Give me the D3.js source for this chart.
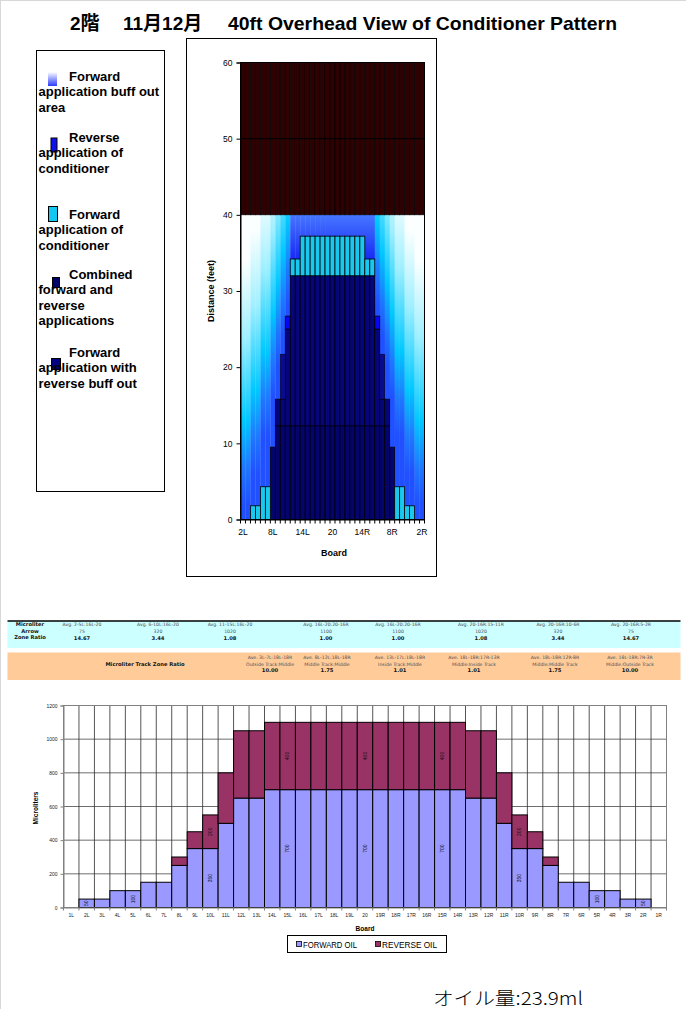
<!DOCTYPE html>
<html><head><meta charset="utf-8">
<script src="https://cdn.jsdelivr.net/npm/d3@7"></script>
<style>body{margin:0;background:#fff}svg{display:block}</style>
</head><body>
<svg id="c" width="686" height="1009"></svg>
<script>
// ---------------- DATA ----------------
const titleParts = ["2階", "11月12月", "40ft Overhead View of Conditioner Pattern"];

// Overhead view (boards 2L..2R)
const boardsTop = ["2L","3L","4L","5L","6L","7L","8L","9L","10L","11L","12L","13L","14L","15L","16L","17L","18L","19L","20",
  "19R","18R","17R","16R","15R","14R","13R","12R","11R","10R","9R","8R","7R","6R","5R","4R","3R","2R"];
const boardTickLabels = ["2L","8L","14L","20","14R","8R","2R"];
const distanceTicks = [0,10,20,30,40,50,60];
const patternLength = 40;   // ft, oiled area
const laneEnd = 60;         // ft
// combined forward + reverse (0 -> value)
const combinedTop = [0,0,0,0,0,0,9.5,12.3,12.3,12.3,12.3,12.3,12.3,12.3,12.3,12.3,12.3,12.3,12.3,12.3,12.3,12.3,12.3,12.3,12.3,12.3,12.3,12.3,12.3,12.3,9.5,0,0,0,0,0,0];
// forward application with reverse buff out (combinedTop -> value)
const revBuffTop = [0,0,0,0,0,0,0,15.8,15.8,25.0,32,32,32,32,32,32,32,32,32,32,32,32,32,32,32,32,32,25.0,15.8,15.8,0,0,0,0,0,0,0];
// upper navy step (board 10L / 10R)
const stepLow  = [null,null,null,null,null,null,null,null,15.8,null,null,null,null,null,null,null,null,null,null,null,null,null,null,null,null,null,null,null,15.8,null,null,null,null,null,null,null,null];
const stepHigh = [null,null,null,null,null,null,null,null,21.7,null,null,null,null,null,null,null,null,null,null,null,null,null,null,null,null,null,null,null,21.7,null,null,null,null,null,null,null,null];
// reverse application of conditioner
const revLow  = [null,null,null,null,null,null,null,null,null,25.0,null,null,null,null,null,null,null,null,null,null,null,null,null,null,null,null,null,25.0,null,null,null,null,null,null,null,null,null];
const revHigh = [null,null,null,null,null,null,null,null,null,26.7,null,null,null,null,null,null,null,null,null,null,null,null,null,null,null,null,null,26.7,null,null,null,null,null,null,null,null,null];
// forward application of conditioner
const fwdLow  = [null,null,0,0,0,0,null,null,null,null,32,32,32,32,32,32,32,32,32,32,32,32,32,32,32,32,32,null,null,null,null,0,0,0,0,null,null];
const fwdHigh = [null,null,1.8,1.8,4.3,4.3,null,null,null,null,34.2,34.2,37.2,37.2,37.2,37.2,37.2,37.2,37.2,37.2,37.2,37.2,37.2,37.2,37.2,34.2,34.2,null,null,null,null,4.3,4.3,1.8,1.8,null,null];
// forward buff-out area: shift (ft) of the fade per board (null = fully blue area)
const buffShift = [2,2,6,6,11,11,16,20,24,28,null,null,null,null,null,null,null,null,null,null,null,null,null,null,null,null,null,28,24,20,16,11,11,6,6,2,2];

const legendItems = [
  ["Forward", "application buff out", "area"],
  ["Reverse", "application of", "conditioner"],
  ["Forward", "application of", "conditioner"],
  ["Combined", "forward and", "reverse", "applications"],
  ["Forward", "application with", "reverse buff out"]
];

// Zone tables
const arrowRowLabels = ["Microliter", "Arrow", "Zone Ratio"];
const arrowZones = ["Avg. 2-5L:16L-20","Avg. 6-10L:16L-20","Avg. 11-15L:16L-20","Avg. 16L-20:20-16R","Avg. 16L-20:20-16R","Avg. 20-16R:15-11R","Avg. 20-16R:10-6R","Avg. 20-16R:5-2R"];
const arrowValues = ["75","320","1020","1100","1100","1020","320","75"];
const arrowRatios = ["14.67","3.44","1.08","1.00","1.00","1.08","3.44","14.67"];
const trackLabel = "Microliter Track Zone Ratio";
const trackZones = ["Ave. 3L-7L:18L-18R","Ave. 8L-12L:18L-18R","Ave. 13L-17L:18L-18R","Ave. 18L-18R:17R-13R","Ave. 18L-18R:12R-8R","Ave. 18L-18R:7R-3R"];
const trackNames = ["Outside Track:Middle","Middle Track:Middle","Inside Track:Middle","Middle:Inside Track","Middle:Middle Track","Middle:Outside Track"];
const trackRatios = ["10.00","1.75","1.01","1.01","1.75","10.00"];

// Oil per board
const boardsAll = ["1L","2L","3L","4L","5L","6L","7L","8L","9L","10L","11L","12L","13L","14L","15L","16L","17L","18L","19L","20",
  "19R","18R","17R","16R","15R","14R","13R","12R","11R","10R","9R","8R","7R","6R","5R","4R","3R","2R","1R"];
const forwardOil = [0,50,50,100,100,150,150,250,350,350,500,650,650,700,700,700,700,700,700,700,700,700,700,700,700,700,650,650,500,350,350,250,150,150,100,100,50,50,0];
const reverseOil = [0,0,0,0,0,0,0,50,100,200,300,400,400,400,400,400,400,400,400,400,400,400,400,400,400,400,400,400,300,200,100,50,0,0,0,0,0,0,0];
const microTicks = [0,200,400,600,800,1000,1200];
const forwardLabelBoards = ["2L","5L","10L","15L","20","15R","10R","5R","2R"];
const reverseLabelBoards = ["10L","15L","20","15R","10R"];
const seriesNames = ["FORWARD OIL","REVERSE OIL"];
const oilNote = "オイル量:23.9ml";

// ---------------- DRAW ----------------
const svg = d3.select("#c");
const SANS = "'Liberation Sans', Arial, 'Noto Sans CJK JP', sans-serif";
const VERD = "'DejaVu Sans', Verdana, sans-serif";

svg.append("rect").attr("width",686).attr("height",1009).attr("fill","#fff");
svg.append("line").attr("x1",0.5).attr("x2",0.5).attr("y1",0).attr("y2",1009).attr("stroke","#d8d8d8");
svg.append("line").attr("x1",0).attr("x2",686).attr("y1",0.5).attr("y2",0.5).attr("stroke","#d8d8d8");

// title
const tg = svg.append("g").attr("font-family",SANS).attr("font-weight","bold").attr("font-size",19).attr("fill","#000");
[70,123,228].forEach((x,i)=>{
  const t = tg.append("text").attr("x",x).attr("y",30).text(titleParts[i]);
  if (i===2) t.attr("textLength",389).attr("lengthAdjust","spacingAndGlyphs");
});

// legend box
svg.append("rect").attr("x",36.5).attr("y",50.5).attr("width",128).attr("height",441).attr("fill","#fff").attr("stroke","#000");
const defs = svg.append("defs");
const lgGrad = defs.append("linearGradient").attr("id","lgbuff").attr("x1",0).attr("x2",0).attr("y1",0).attr("y2",1);
lgGrad.append("stop").attr("offset",0).attr("stop-color","#ffffff");
lgGrad.append("stop").attr("offset",1).attr("stop-color","#2a3cff");
const legendSw = [
  {x:48,y:72,w:9,h:14,fill:"url(#lgbuff)",stroke:"none"},
  {x:51,y:138,w:6,h:14,fill:"#1010ee",stroke:"#000"},
  {x:48.5,y:206.5,w:9,h:15,fill:"#12c8f2",stroke:"#000"},
  {x:52.5,y:277.5,w:7,h:10,fill:"#00006a",stroke:"#000"},
  {x:51.5,y:358.5,w:9,h:11,fill:"#000080",stroke:"#000"}
];
const legendY = [81,141.7,219,279,356.7];
const lg = svg.append("g").attr("font-family",SANS).attr("font-weight","bold").attr("font-size",13).attr("fill","#000");
legendItems.forEach((lines,i)=>{
  const s = legendSw[i];
  lg.append("rect").attr("x",s.x).attr("y",s.y).attr("width",s.w).attr("height",s.h).attr("fill",s.fill).attr("stroke",s.stroke).attr("stroke-width",1);
  lines.forEach((t,j)=>{
    lg.append("text").attr("x", j===0?69:38.5).attr("y", legendY[i]+j*15.4).text(t);
  });
});

// overhead chart box
svg.append("rect").attr("x",186.5).attr("y",38.5).attr("width",250).attr("height",538).attr("fill","#fff").attr("stroke","#000");
const xT = d3.scaleBand().domain(boardsTop).range([240.5,424.5]).padding(0);
const yT = d3.scaleLinear().domain([0,laneEnd]).range([519.5,62.5]);
const bw = xT.bandwidth();

// gradients for buff out area
const blueTop = defs.append("linearGradient").attr("id","blueTop").attr("gradientUnits","userSpaceOnUse")
  .attr("x1",0).attr("x2",0).attr("y1",yT(patternLength)).attr("y2",yT(31));
blueTop.append("stop").attr("offset",0).attr("stop-color","#4676ff");
blueTop.append("stop").attr("offset",1).attr("stop-color","#0000f0");
const buffStops = [[0,"#2050ff"],[5/32,"#1e7aff"],[11/32,"#00c8ff"],[22/32,"#a0efff"],[1,"#fbffff"]];
boardsTop.forEach((b,i)=>{
  if (buffShift[i]===null) return;
  const g = defs.append("linearGradient").attr("id","buff"+i).attr("gradientUnits","userSpaceOnUse")
    .attr("x1",0).attr("x2",0).attr("y1",yT(buffShift[i])).attr("y2",yT(buffShift[i]+32));
  buffStops.forEach(s=>g.append("stop").attr("offset",s[0]).attr("stop-color",s[1]));
});
const pg = svg.append("g");
// buff background 0-40
pg.selectAll(".buff").data(boardsTop).join("rect")
  .attr("x",d=>xT(d)).attr("width",bw+0.3)
  .attr("y",yT(patternLength)).attr("height",yT(0)-yT(patternLength))
  .attr("fill",(d,i)=>buffShift[i]===null?"url(#blueTop)":"url(#buff"+i+")");
// dry area 40-60
pg.selectAll(".dry").data(boardsTop).join("rect")
  .attr("x",d=>xT(d)).attr("width",bw)
  .attr("y",yT(laneEnd)).attr("height",yT(patternLength)-yT(laneEnd))
  .attr("fill","#2e0202").attr("stroke","#000").attr("stroke-width",0.6);
function seg(lowArr, highArr, fill, sw){
  boardsTop.forEach((b,i)=>{
    const lo = lowArr[i], hi = highArr[i];
    if (lo===null || hi===null || hi<=lo) return;
    pg.append("rect").attr("x",xT(b)).attr("width",bw).attr("y",yT(hi)).attr("height",yT(lo)-yT(hi))
      .attr("fill",fill).attr("stroke","#000").attr("stroke-width",sw);
  });
}
seg(boardsTop.map(()=>0), combinedTop, "#04046c", 0.7);
seg(combinedTop, revBuffTop, "#06067a", 0.7);
seg(stepLow, stepHigh, "#0a0a8c", 0.5);
seg(revLow, revHigh, "#0606f0", 0.8);
seg(fwdLow, fwdHigh, "#1ac8ee", 0.8);
// gridline at 50
pg.append("line").attr("x1",xT.range()[0]).attr("x2",xT.range()[1]).attr("y1",yT(50)).attr("y2",yT(50)).attr("stroke","#000").attr("stroke-width",1);
// plot border
pg.append("rect").attr("x",240.5).attr("y",62.5).attr("width",184).attr("height",457).attr("fill","none").attr("stroke","#000");
// axes
const yAx = svg.append("g").attr("transform","translate(240.5,0)").call(d3.axisLeft(yT).tickValues(distanceTicks).tickSize(4).tickPadding(4).tickFormat(d3.format("d")));
yAx.selectAll("text").attr("font-family",SANS).attr("font-size",8.5).attr("fill","#000");
yAx.selectAll("line,path").attr("stroke","#000");
const xAx = svg.append("g").attr("transform","translate(0,519.5)").call(d3.axisBottom(xT).tickValues(boardTickLabels).tickSize(0).tickPadding(9));
xAx.selectAll("text").attr("font-family",SANS).attr("font-size",8.5).attr("fill","#000");
xAx.select("path").attr("stroke","#000");
boardsTop.concat(["end"]).forEach((b,i)=>{
  const x = i<boardsTop.length ? xT(b) : xT.range()[1];
  svg.append("line").attr("x1",x).attr("x2",x).attr("y1",519.5).attr("y2",523.5).attr("stroke","#000");
});
svg.append("text").attr("x",334).attr("y",556).attr("text-anchor","middle").attr("font-family",SANS).attr("font-weight","bold").attr("font-size",9).text("Board");
svg.append("text").attr("transform","translate(214,291) rotate(-90)").attr("text-anchor","middle").attr("font-family",SANS).attr("font-weight","bold").attr("font-size",9).text("Distance (feet)");

// ---------------- tables ----------------
const arrowCols = [82,158,230,326,398,481,558,631];
const trackCols = [270,327,400,474,555,630];
const tb = svg.append("g").attr("font-family",VERD).attr("text-anchor","middle");
tb.append("rect").attr("x",7.5).attr("y",621).attr("width",673).attr("height",27).attr("fill","#ccffff");
tb.append("line").attr("x1",7.5).attr("x2",680.5).attr("y1",621).attr("y2",621).attr("stroke","#000").attr("stroke-width",1.3);
tb.append("rect").attr("x",7.5).attr("y",652.5).attr("width",673).attr("height",27.5).attr("fill","#ffcc99");
arrowRowLabels.forEach((t,i)=>tb.append("text").attr("x",30).attr("y",626+i*6.7).attr("font-weight","bold").attr("font-size",5.2).attr("fill","#111").text(t));
arrowZones.forEach((t,i)=>{
  tb.append("text").attr("x",arrowCols[i]).attr("y",626).attr("font-size",4.6).attr("fill","#4a4a55").text(t);
  tb.append("text").attr("x",arrowCols[i]).attr("y",632.7).attr("font-size",4.6).attr("fill","#4a4a55").text(arrowValues[i]);
  tb.append("text").attr("x",arrowCols[i]).attr("y",639.6).attr("font-weight","bold").attr("font-size",5.2).attr("fill","#111").text(arrowRatios[i]);
});
tb.append("text").attr("x",145).attr("y",666).attr("font-weight","bold").attr("font-size",5.2).attr("fill","#111").text(trackLabel);
trackZones.forEach((t,i)=>{
  tb.append("text").attr("x",trackCols[i]).attr("y",659).attr("font-size",4.6).attr("fill","#4a4a55").text(t);
  tb.append("text").attr("x",trackCols[i]).attr("y",665.5).attr("font-size",4.6).attr("fill","#4a4a55").text(trackNames[i]);
  tb.append("text").attr("x",trackCols[i]).attr("y",672).attr("font-weight","bold").attr("font-size",5.2).attr("fill","#111").text(trackRatios[i]);
});

// ---------------- oil chart ----------------
const xB = d3.scaleBand().domain(boardsAll).range([63.5,666.5]).padding(0);
const yB = d3.scaleLinear().domain([0,1200]).range([907.5,705.5]);
const ob = svg.append("g");
microTicks.forEach(t=>ob.append("line").attr("x1",63.5).attr("x2",666.5).attr("y1",yB(t)).attr("y2",yB(t)).attr("stroke","#6e6e6e").attr("stroke-width",1));
boardsAll.concat(["end"]).forEach((b,i)=>{
  const x = i<boardsAll.length ? xB(b) : xB.range()[1];
  ob.append("line").attr("x1",x).attr("x2",x).attr("y1",705.5).attr("y2",907.5).attr("stroke","#2a2a2a").attr("stroke-width",0.8);
});
ob.append("rect").attr("x",63.5).attr("y",705.5).attr("width",603).attr("height",202).attr("fill","none").attr("stroke","#808080");
ob.selectAll(".fw").data(boardsAll.filter((b,i)=>forwardOil[i]>0)).join("rect")
  .attr("x",d=>xB(d)).attr("width",xB.bandwidth())
  .attr("y",d=>yB(forwardOil[boardsAll.indexOf(d)])).attr("height",d=>yB(0)-yB(forwardOil[boardsAll.indexOf(d)]))
  .attr("fill","#9999ff").attr("stroke","#000").attr("stroke-width",1);
ob.selectAll(".rv").data(boardsAll.filter((b,i)=>reverseOil[i]>0)).join("rect")
  .attr("x",d=>xB(d)).attr("width",xB.bandwidth())
  .attr("y",d=>{const i=boardsAll.indexOf(d);return yB(forwardOil[i]+reverseOil[i]);})
  .attr("height",d=>{const i=boardsAll.indexOf(d);return yB(forwardOil[i])-yB(forwardOil[i]+reverseOil[i]);})
  .attr("fill","#993366").attr("stroke","#000").attr("stroke-width",1);
const lbl = ob.append("g").attr("font-family",SANS).attr("font-size",5).attr("fill","#111").attr("text-anchor","middle");
forwardLabelBoards.forEach(b=>{
  const i = boardsAll.indexOf(b);
  const cx = xB(b)+xB.bandwidth()/2, cy = yB(forwardOil[i]/2);
  lbl.append("text").attr("transform",`translate(${cx+1.8},${cy}) rotate(-90)`).text(forwardOil[i]);
});
reverseLabelBoards.forEach(b=>{
  const i = boardsAll.indexOf(b);
  const cx = xB(b)+xB.bandwidth()/2, cy = yB(forwardOil[i]+reverseOil[i]/2);
  lbl.append("text").attr("transform",`translate(${cx+1.8},${cy}) rotate(-90)`).text(reverseOil[i]);
});
const yAxB = svg.append("g").attr("transform","translate(63.5,0)").call(d3.axisLeft(yB).tickValues(microTicks).tickSize(3).tickPadding(3).tickFormat(d3.format("d")));
yAxB.selectAll("text").attr("font-family",SANS).attr("font-size",5).attr("fill","#222");
yAxB.selectAll("line,path").attr("stroke","#808080");
const xAxB = svg.append("g").attr("transform","translate(0,907.5)").call(d3.axisBottom(xB).tickSize(0).tickPadding(6));
xAxB.selectAll("text").attr("font-family",SANS).attr("font-size",5).attr("fill","#222");
xAxB.select("path").attr("stroke","#808080");
boardsAll.concat(["end"]).forEach((b,i)=>{
  const x = i<boardsAll.length ? xB(b) : xB.range()[1];
  svg.append("line").attr("x1",x).attr("x2",x).attr("y1",907.5).attr("y2",910.5).attr("stroke","#808080");
});
svg.append("text").attr("transform","translate(38,808) rotate(-90)").attr("text-anchor","middle").attr("font-family",SANS).attr("font-weight","bold").attr("font-size",6.5).text("Microliters");
svg.append("text").attr("x",365).attr("y",931).attr("text-anchor","middle").attr("font-family",SANS).attr("font-weight","bold").attr("font-size",6.5).text("Board");
const lb = svg.append("g").attr("font-family",SANS).attr("font-size",9).attr("fill","#000");
lb.append("rect").attr("x",287.5).attr("y",935.5).attr("width",159).attr("height",17).attr("fill","#fff").attr("stroke","#000");
[[296,"#9999ff"],[375,"#993366"]].forEach((s,i)=>{
  lb.append("rect").attr("x",s[0]+0.5).attr("y",941.5).attr("width",5).attr("height",5).attr("fill",s[1]).attr("stroke","#000").attr("stroke-width",0.8);
  lb.append("text").attr("x",s[0]+7).attr("y",947.5).attr("textLength",i===0?54:55).attr("lengthAdjust","spacingAndGlyphs").text(seriesNames[i]);
});
svg.append("text").attr("x",433).attr("y",1005).attr("font-family","'Noto Sans CJK JP', sans-serif").attr("font-weight",300).attr("font-size",18).attr("textLength",150).attr("lengthAdjust","spacingAndGlyphs").attr("fill","#000").text(oilNote);
</script>
</body></html>
